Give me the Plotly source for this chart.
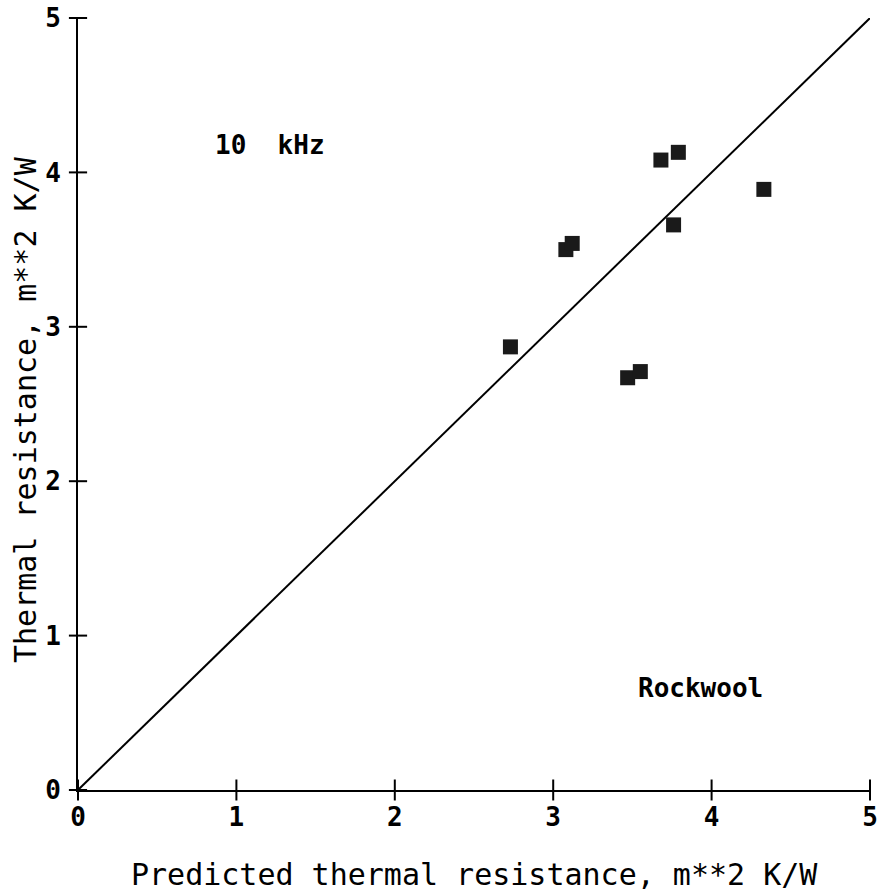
import plotly.graph_objects as go

pred = [2.73, 3.08, 3.12, 3.47, 3.55, 3.68, 3.79, 3.76, 4.33]
meas = [2.87, 3.50, 3.54, 2.67, 2.71, 4.08, 4.13, 3.66, 3.89]
line_x = [0, 5]
line_y = [0, 5]
ticks = [0, 1, 2, 3, 4, 5]

FAM = "DejaVu Sans Mono"
tickfont = dict(family=FAM, size=26, color="black", weight="bold")
titlefont = dict(family=FAM, size=30, color="black")
annfont = dict(family=FAM, size=26, color="black", weight="bold")

fig = go.Figure()
fig.add_trace(go.Scatter(x=line_x, y=line_y, mode="lines",
                         line=dict(color="black", width=2), showlegend=False))
fig.add_trace(go.Scatter(x=pred, y=meas, mode="markers",
                         marker=dict(symbol="square", size=15, color="#1a1a1a",
                                     line=dict(width=0)), showlegend=False))
# crossing tick marks on both axes
fig.add_trace(go.Scatter(x=ticks, y=[0] * len(ticks), mode="markers", cliponaxis=False,
                         marker=dict(symbol="line-ns-open", size=15, color="black",
                                     line=dict(color="black", width=2)),
                         showlegend=False, hoverinfo="skip"))
fig.add_trace(go.Scatter(x=[0] * len(ticks), y=ticks, mode="markers", cliponaxis=False,
                         marker=dict(symbol="line-ew-open", size=13, color="black",
                                     line=dict(color="black", width=2)),
                         showlegend=False, hoverinfo="skip"))

axis_common = dict(range=[0, 5], tickvals=ticks, showgrid=False, zeroline=False,
                   showline=True, linecolor="black", linewidth=2,
                   ticks="", tickfont=tickfont, automargin=False,
                   ticklabeloverflow="allow")

fig.update_layout(
    width=877, height=891,
    margin=dict(l=78, r=7, t=18, b=101),
    plot_bgcolor="white", paper_bgcolor="white",
    xaxis=dict(**axis_common, ticklabelstandoff=3),
    yaxis=dict(**axis_common, ticklabelstandoff=10),
    annotations=[
        dict(x=0.5, y=0, xref="paper", yref="paper", yshift=-84,
             text="Predicted thermal resistance, m**2 K/W", showarrow=False,
             xanchor="center", yanchor="middle", font=titlefont),
        dict(x=0, y=0.5, xref="paper", yref="paper", xshift=-53, yshift=-6,
             textangle=-90,
             text="Thermal resistance, m**2 K/W", showarrow=False,
             xanchor="center", yanchor="middle", font=titlefont),
        dict(x=0.85, y=4.18, xref="x", yref="y", text="10  kHz", showarrow=False,
             xanchor="left", font=annfont),
        dict(x=3.52, y=0.66, xref="x", yref="y", text="Rockwool", showarrow=False,
             xanchor="left", font=annfont),
    ],
)

fig.write_html("out.html", config={"displayModeBar": False},
               post_script="document.body.style.margin='0';"
                           "document.body.style.overflow='hidden';")
